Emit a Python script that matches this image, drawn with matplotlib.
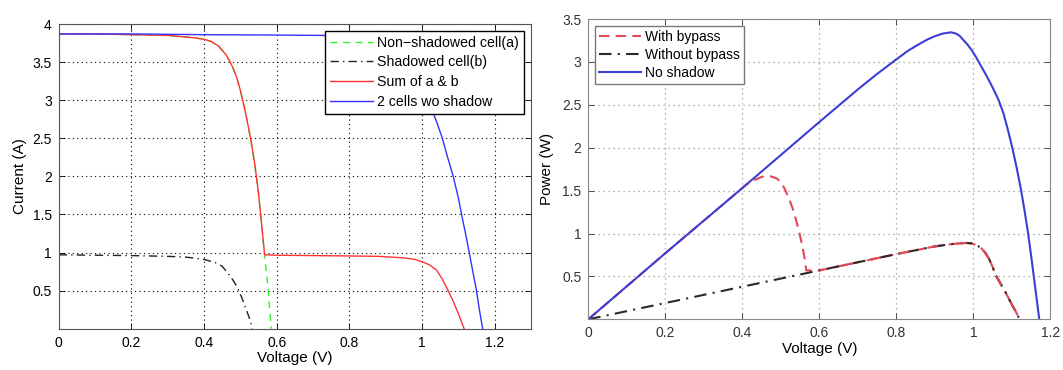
import numpy as np
import matplotlib
matplotlib.use("Agg")
import matplotlib.pyplot as plt

plt.rcParams["font.family"] = ["Liberation Sans", "DejaVu Sans"]
plt.rcParams["font.size"] = 10

# I-V curves (left)
v_a = [0, 0.1, 0.2, 0.3, 0.35, 0.38, 0.4, 0.42, 0.44, 0.46, 0.47, 0.48, 0.49,
       0.5, 0.51, 0.52, 0.53, 0.54, 0.55, 0.56, 0.567, 0.575, 0.58, 0.585]
i_a = [3.87, 3.87, 3.86, 3.85, 3.83, 3.815, 3.80, 3.77, 3.71, 3.6, 3.52, 3.42, 3.30,
       3.13, 2.93, 2.70, 2.45, 2.15, 1.78, 1.30, 0.95, 0.60, 0.30, 0.0]

v_b = [0, 0.1, 0.2, 0.3, 0.35, 0.4, 0.43, 0.45, 0.474, 0.49, 0.503, 0.515, 0.527, 0.533]
i_b = [0.97, 0.965, 0.96, 0.95, 0.94, 0.91, 0.87, 0.82, 0.68, 0.56, 0.42, 0.27, 0.11, 0.0]

v_sum = [0, 0.1, 0.2, 0.3, 0.35, 0.38, 0.4, 0.42, 0.44, 0.46, 0.47, 0.48, 0.49,
         0.5, 0.51, 0.52, 0.53, 0.54, 0.55, 0.56, 0.567, 0.6, 0.7, 0.8, 0.88,
         0.95, 0.98, 1.0, 1.02, 1.04, 1.055, 1.072, 1.085, 1.1, 1.116]
i_sum = [3.87, 3.87, 3.86, 3.85, 3.83, 3.815, 3.80, 3.77, 3.71, 3.6, 3.52, 3.42, 3.30,
         3.13, 2.93, 2.70, 2.45, 2.15, 1.78, 1.30, 0.97, 0.965, 0.96, 0.955, 0.95,
         0.93, 0.91, 0.88, 0.84, 0.77, 0.66, 0.50, 0.37, 0.2, 0.0]

v_ns = [0, 0.2, 0.4, 0.6, 0.73, 0.8, 0.88, 0.93, 0.97, 1.0, 1.025, 1.04, 1.056,
        1.07, 1.086, 1.1, 1.112, 1.122, 1.13, 1.14, 1.15, 1.158, 1.167]
i_ns = [3.87, 3.87, 3.86, 3.855, 3.85, 3.82, 3.74, 3.6, 3.4, 3.12, 2.9, 2.72, 2.5,
        2.26, 2.0, 1.72, 1.43, 1.2, 1.0, 0.75, 0.5, 0.25, 0.0]

# P-V curves (right)
v_p = [0, 0.2, 0.4, 0.6, 0.7, 0.75, 0.8, 0.83, 0.86, 0.88, 0.9, 0.92, 0.942, 0.955,
       0.965, 0.975, 0.985, 0.995, 1.005, 1.02, 1.035, 1.05, 1.065, 1.078, 1.09,
       1.102, 1.113, 1.124, 1.133, 1.142, 1.149, 1.155, 1.163, 1.171]
p_ns = [0, 0.77, 1.53, 2.3, 2.68, 2.86, 3.03, 3.13, 3.21, 3.26, 3.3, 3.33, 3.345, 3.33,
        3.3, 3.25, 3.20, 3.14, 3.07, 2.95, 2.83, 2.7, 2.56, 2.4, 2.2,
        1.98, 1.75, 1.5, 1.26, 1.0, 0.77, 0.56, 0.28, 0.0]

v_wo = [0, 0.2, 0.4, 0.6, 0.8, 0.9, 0.95, 0.98, 0.995, 1.01, 1.02, 1.03, 1.04,
        1.05, 1.057, 1.07, 1.085, 1.1, 1.11, 1.12]
p_wo = [0, 0.19, 0.38, 0.57, 0.76, 0.85, 0.88, 0.89, 0.885, 0.86, 0.83, 0.78, 0.71,
        0.61, 0.52, 0.42, 0.3, 0.17, 0.09, 0.0]

v_by = [0, 0.2, 0.4, 0.41, 0.43, 0.45, 0.464, 0.475, 0.49, 0.5, 0.51, 0.52, 0.53,
        0.54, 0.548, 0.556, 0.562, 0.566, 0.6, 0.8, 0.9, 0.95, 0.98, 0.995, 1.01,
        1.02, 1.03, 1.04, 1.05, 1.057, 1.07, 1.085, 1.1, 1.11, 1.12]
p_by = [0, 0.77, 1.53, 1.57, 1.62, 1.66, 1.67, 1.665, 1.64, 1.6, 1.52, 1.42, 1.3,
        1.15, 1.01, 0.85, 0.7, 0.57, 0.57, 0.76, 0.85, 0.88, 0.89, 0.885, 0.86,
        0.83, 0.78, 0.71, 0.61, 0.52, 0.42, 0.3, 0.17, 0.09, 0.0]

fig = plt.figure(figsize=(10.63, 3.7), dpi=100)
ax1 = fig.add_axes([0.0552, 0.1116, 0.4443, 0.8235])
ax2 = fig.add_axes([0.5534, 0.137, 0.4348, 0.8116])

ax1.plot(v_a, i_a, color="#33ee33", lw=1.0, ls=(0, (5, 4)), label="Non\u2212shadowed cell(a)")
ax1.plot(v_b, i_b, color="#222222", lw=1.0, ls=(0, (6, 3, 1, 3)), label="Shadowed cell(b)")
ax1.plot(v_sum, i_sum, color="#ff3333", lw=1.0, label="Sum of a & b")
ax1.plot(v_ns, i_ns, color="#3333ff", lw=1.0, label="2 cells wo shadow")
ax1.set_xlim(0, 1.3)
ax1.set_ylim(0, 4)
ax1.set_xticks(np.arange(0, 1.21, 0.2))
ax1.set_xticklabels(["0", "0.2", "0.4", "0.6", "0.8", "1", "1.2"])
ax1.set_yticks(np.arange(0.5, 4.01, 0.5))
ax1.set_yticklabels(["0.5", "1", "1.5", "2", "2.5", "3", "3.5", "4"])
ax1.set_xlabel("Voltage (V)", fontsize=11, labelpad=1)
ax1.set_ylabel("Current (A)", fontsize=11, labelpad=4)
ax1.grid(True, color="black", ls=(0, (1, 3)), lw=0.8)
for s in ax1.spines.values():
    s.set_color("#555555")
ax1.tick_params(direction="in", top=True, right=True, length=4, width=0.6, pad=5)
leg1 = ax1.legend(loc="upper right", bbox_to_anchor=(0.985, 0.978), fancybox=False,
                  framealpha=1, edgecolor="black", handlelength=3.0, fontsize=10.2,
                  borderpad=0.35, labelspacing=0.4, handletextpad=0.3, borderaxespad=0)
leg1.get_frame().set_linewidth(1.0)

ax2.plot(v_by, p_by, color="#e04a55", lw=1.5, ls=(0, (5, 3)), label="With bypass")
ax2.plot(v_wo, p_wo, color="#2a2a2a", lw=1.5, ls=(0, (6, 3, 1, 3)), label="Without bypass")
ax2.plot(v_p, p_ns, color="#3d3dd6", lw=1.5, label="No shadow")
# bypass curve drawn again over the shared part
ax2.plot(v_by[18:], p_by[18:], color="#e04a55", lw=1.5, ls=(3, (5, 9)))
ax2.set_xlim(0, 1.2)
ax2.set_ylim(0, 3.5)
ax2.set_xticks(np.arange(0, 1.21, 0.2))
ax2.set_xticklabels(["0", "0.2", "0.4", "0.6", "0.8", "1", "1.2"])
ax2.set_yticks(np.arange(0.5, 3.51, 0.5))
ax2.set_yticklabels(["0.5", "1", "1.5", "2", "2.5", "3", "3.5"])
ax2.set_xlabel("Voltage (V)", fontsize=11, labelpad=1)
ax2.set_ylabel("Power (W)", fontsize=11, labelpad=6)
ax2.grid(True, color="#999999", ls=(0, (1, 3)), lw=0.9)
for s in ax2.spines.values():
    s.set_color("#888888")
ax2.tick_params(direction="in", top=True, right=True, length=4, width=0.6, pad=5,
                colors="#333333")
leg2 = ax2.legend(loc="upper left", bbox_to_anchor=(0.015, 0.978), fancybox=False,
                  framealpha=1, edgecolor="#777777", handlelength=3.0, fontsize=10,
                  borderpad=0.3, labelspacing=0.3, handletextpad=0.3, borderaxespad=0)
leg2.get_frame().set_linewidth(1.0)

fig.savefig("out.png", dpi=100)
